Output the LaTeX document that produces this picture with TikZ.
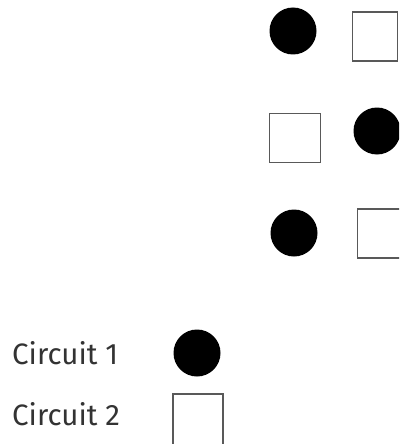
\documentclass[tikz,border=0pt]{standalone}
\usepackage{fontspec}
\setmainfont[FakeStretch=1.0]{Fira Sans}
\begin{document}
\begin{tikzpicture}[x=1pt,y=-1pt,
  dot/.style={circle,fill=black,inner sep=0pt,minimum size=47pt},
  box/.style={rectangle,draw=black!65,line width=1.5pt,fill=white,inner sep=0pt,minimum width=#1,minimum height=49pt},
  box/.default=49pt,
  lbl/.style={anchor=west,inner sep=0pt,font=\fontsize{29.5}{30}\selectfont,text=black!80}]
\useasboundingbox (0,0) rectangle (399,444);
\clip (0,0) rectangle (399,444);
% row 1
\node[dot] (r1c) at (293,31) {};
\node[box=45pt] (r1s) at (375,36.5) {};
% row 2
\node[box=51pt] (r2s) at (295,138) {};
\node[dot] (r2c) at (377,131) {};
% row 3
\node[dot] (r3c) at (294,233) {};
\node[box=49pt] (r3s) at (382,233.5) {};
% legend
\node[lbl] (t1) at (12,353) {Circuit 1};
\node[dot] (l1) at (197,353) {};
\node[lbl] (t2) at (12,414) {Circuit 2};
\node[box=50pt,minimum height=52pt] (l2) at (198,420) {};
\end{tikzpicture}
\end{document}
